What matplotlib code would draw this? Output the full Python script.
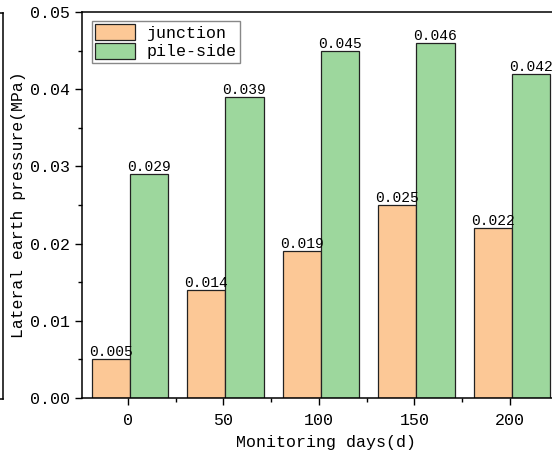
import matplotlib.pyplot as plt
import numpy as np
from matplotlib.lines import Line2D
from matplotlib.ticker import MultipleLocator

days = ["0", "50", "100", "150", "200"]
junction = [0.005, 0.014, 0.019, 0.025, 0.022]
pile_side = [0.029, 0.039, 0.045, 0.046, 0.042]

plt.rcParams['font.family'] = ['Liberation Mono', 'DejaVu Sans']

fig = plt.figure(figsize=(5.52, 4.59), dpi=100)
W, H = 552, 459
ax = fig.add_axes([82 / W, 1 - 398 / H, (570 - 82) / W, (398 - 12) / H])

x = np.arange(len(days))
w = 0.4
b1 = ax.bar(x - w / 2 + 0.02, junction, w, color="#FCC896", edgecolor="#222222",
            linewidth=0.9, label="junction")
b2 = ax.bar(x + w / 2 + 0.02, pile_side, w, color="#9DD79D", edgecolor="#222222",
            linewidth=0.9, label="pile-side")
for bars, vals in ((b1, junction), (b2, pile_side)):
    for r, v in zip(bars, vals):
        ax.text(r.get_x() + r.get_width() / 2, v, f"{v:.3f}", ha="center",
                va="bottom", fontsize=10.5)

ax.set_xlim(-0.48, (570 - 128) / 95.5)
ax.set_ylim(0, 0.05)
ax.set_xticks(x)
ax.set_xticklabels(days)
ax.xaxis.set_minor_locator(MultipleLocator(0.5))
ax.yaxis.set_major_locator(MultipleLocator(0.01))
ax.yaxis.set_minor_locator(MultipleLocator(0.005))
ax.yaxis.set_major_formatter(plt.FuncFormatter(lambda v, p: f"{v:.2f}"))
ax.tick_params(which="major", direction="out", length=5, width=1, labelsize=12)
ax.tick_params(which="minor", direction="out", length=3, width=1)
ax.tick_params(axis="x", pad=6)
for s in ax.spines.values():
    s.set_linewidth(1.1)

ax.set_xlabel("Monitoring days(d)", fontsize=12, labelpad=5)
ax.set_ylabel("Lateral earth pressure(MPa)", fontsize=11.8, labelpad=3)

ax.legend(loc="upper left", bbox_to_anchor=(0.014, 0.985), fontsize=12,
          fancybox=False, edgecolor="#888888", framealpha=1,
          handlelength=2.4, handleheight=1.1, borderpad=0.2,
          labelspacing=0.1, handletextpad=0.65, borderaxespad=0.2)

# edge of the neighbouring panel on the left
fig.add_artist(Line2D([3 / W, 3 / W], [1 - 13 / H, 1 - 399 / H], color="black", lw=1.1))
fig.add_artist(Line2D([0, 3 / W], [1 - 13 / H, 1 - 13 / H], color="black", lw=1.1))
fig.add_artist(Line2D([0, 3 / W], [1 - 399 / H, 1 - 399 / H], color="black", lw=1.1))

fig.savefig("out.png", dpi=100)
